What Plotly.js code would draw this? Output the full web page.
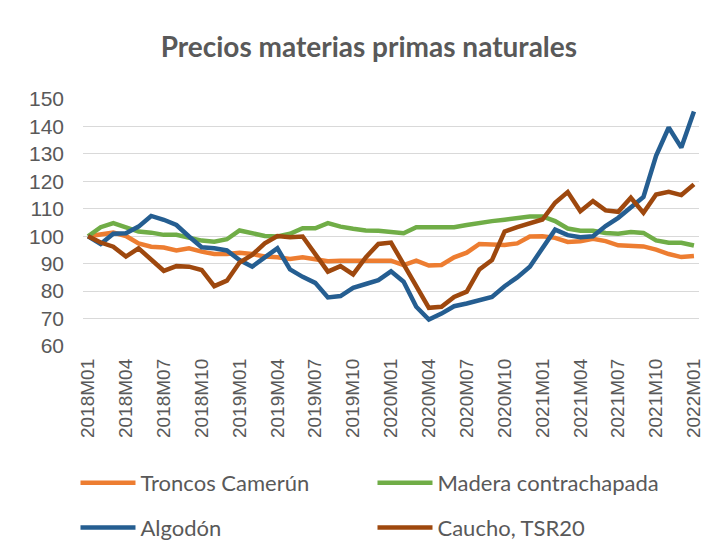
<!DOCTYPE html>
<html>
<head>
<meta charset="utf-8">
<script src="https://cdn.plot.ly/plotly-3.0.1.min.js"></script>
<style>
  html, body { margin:0; padding:0; background:#fff; }
  #chart { width:719px; height:555px; }
</style>
</head>
<body>
<div id="chart"></div>
<script>
const months = [
  "2018M01","2018M02","2018M03","2018M04","2018M05","2018M06","2018M07","2018M08","2018M09","2018M10","2018M11","2018M12",
  "2019M01","2019M02","2019M03","2019M04","2019M05","2019M06","2019M07","2019M08","2019M09","2019M10","2019M11","2019M12",
  "2020M01","2020M02","2020M03","2020M04","2020M05","2020M06","2020M07","2020M08","2020M09","2020M10","2020M11","2020M12",
  "2021M01","2021M02","2021M03","2021M04","2021M05","2021M06","2021M07","2021M08","2021M09","2021M10","2021M11","2021M12",
  "2022M01"
];
const tickMonths = ["2018M01","2018M04","2018M07","2018M10","2019M01","2019M04","2019M07","2019M10",
  "2020M01","2020M04","2020M07","2020M10","2021M01","2021M04","2021M07","2021M10","2022M01"];

const troncos = [100,100.5,101.3,100.1,97.4,96.2,95.9,94.8,95.6,94.4,93.5,93.5,
  94,93.5,92.6,92.3,91.7,92.3,91.7,90.9,91.1,91.1,91.3,91.1,
  91.1,89.5,91.1,89.3,89.5,92.3,94,97.2,97.1,96.8,97.4,99.9,
  100,99.4,97.9,98.2,99.1,98.2,96.7,96.3,96.3,95.1,93.5,92.4,
  92.8];
const madera = [100,103.3,104.8,103.3,101.7,101.3,100.5,100.5,99.3,98.4,98,98.9,
  102.1,100.9,100.1,99.9,100.9,102.9,102.9,104.8,103.5,102.7,102.1,102,
  101.7,101.1,103.3,103.2,103.5,103.3,104.1,105,105.5,106,106.6,107.2,
  107.2,105.5,102.8,102,102,101.2,100.9,101.5,101.2,98.5,97.6,97.6,
  96.6];
const algodon = [100,97.2,100.9,101.1,103.5,107.4,106,104.1,99.9,96,95.6,94.8,
  91.3,88.9,92.3,95.6,87.9,85.2,83,77.7,78.2,81.2,82.6,84,
  87.2,83.4,74.3,69.6,71.8,74.5,75.5,76.7,77.9,81.8,85,88.9,
  95.5,102.4,100.4,99.6,100,103.7,106.7,110.6,114.3,129.3,139.6,132.3,
  145.4];
const caucho = [100,97.7,96.2,92.6,95.6,91.6,87.4,89.1,88.9,87.7,81.8,83.8,
  90.4,93.2,97.4,100.1,99.6,99.9,93.5,87.1,89.1,86.1,92.3,97.2,
  97.7,89.5,81.5,73.9,74.3,77.9,79.8,87.9,91.3,101.7,103.3,104.6,
  106.1,112.2,116.1,109.1,112.8,109.4,108.9,114,108.5,115.2,116.2,115,
  118.9];

const seriesNames = ["Troncos Camerún","Madera contrachapada","Algodón","Caucho, TSR20"];
const seriesColors = ["#ED7D31","#70AD47","#255E91","#9E480E"];
const seriesData = [troncos, madera, algodon, caucho];
const legendOf = ["legend","legend","legend2","legend2"];

const traces = seriesData.map((y, k) => ({
  x: months, y: y, type: "scatter", mode: "lines",
  name: seriesNames[k],
  line: { color: seriesColors[k], width: 4.5, shape: "linear" },
  legend: legendOf[k],
  hoverinfo: "x+y+name"
}));

const grey = "#595959";
const legendBase = {
  orientation: "h",
  xref: "container", yref: "container",
  x: 0.105, xanchor: "left", yanchor: "middle",
  entrywidth: 227, entrywidthmode: "pixels",
  itemwidth: 55,
  font: { family: "Lato, 'Open Sans', sans-serif", size: 22, color: grey },
  bgcolor: "rgba(0,0,0,0)", borderwidth: 0
};

const layout = {
  width: 719, height: 555,
  paper_bgcolor: "#fff", plot_bgcolor: "#fff",
  margin: { l: 83, r: 20, t: 99, b: 209 },
  title: {
    text: "<b>Precios materias primas naturales</b>",
    font: { family: "Lato, 'Open Sans', sans-serif", size: 28, color: grey },
    xref: "container", yref: "container",
    x: 0.513, xanchor: "center", y: 0.915, yanchor: "middle"
  },
  xaxis: {
    type: "category",
    range: [-0.4, 48.4],
    tickvals: tickMonths, ticktext: tickMonths,
    tickangle: -90,
    tickfont: { family: "'Liberation Sans', Arial, sans-serif", size: 19, color: grey },
    showgrid: false, zeroline: false, showline: false, ticks: "",
    ticklabelstandoff: 8
  },
  yaxis: {
    range: [60, 150],
    dtick: 10,
    tickfont: { family: "'Liberation Sans', Arial, sans-serif", size: 21, color: grey },
    showgrid: true, gridcolor: "#d9d9d9", gridwidth: 1.3,
    zeroline: false, showline: false, ticks: "",
    ticklabelstandoff: 18
  },
  showlegend: true,
  legend: Object.assign({}, legendBase, { y: 0.13 }),
  legend2: Object.assign({}, legendBase, { y: 0.049 })
};

Plotly.newPlot("chart", traces, layout, { displayModeBar: false, responsive: false });
</script>
</body>
</html>
